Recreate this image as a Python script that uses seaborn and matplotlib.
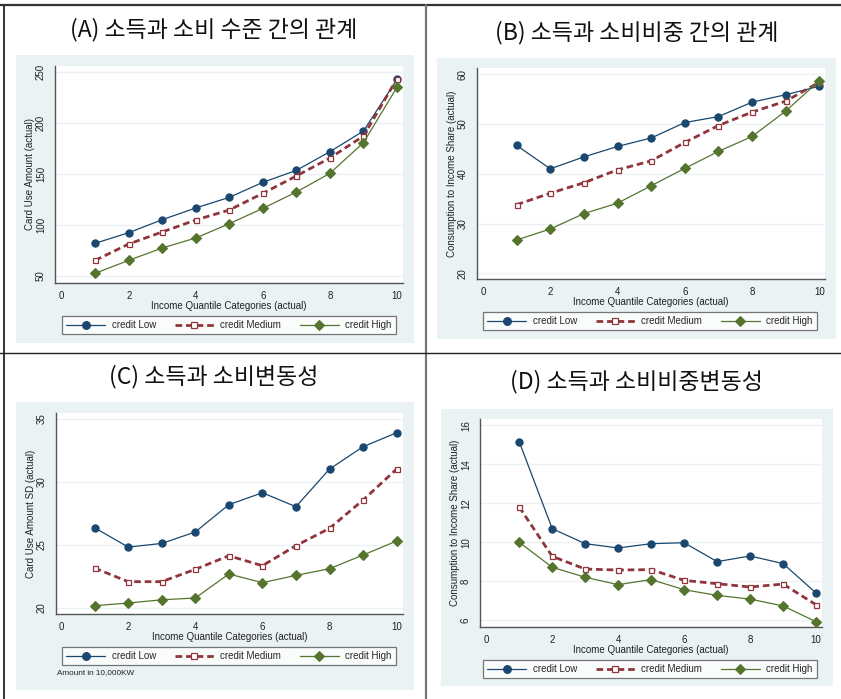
import numpy as np
import pandas as pd
import matplotlib
matplotlib.use("Agg")
import matplotlib.pyplot as plt
from matplotlib.patches import Rectangle
from matplotlib.lines import Line2D
import seaborn as sns

sns.set_theme(style="white")
plt.rcParams["font.family"] = ["Liberation Sans", "Noto Sans CJK KR", "DejaVu Sans"]

# ---- data -------------------------------------------------------------
quantile = [1, 2, 3, 4, 5, 6, 7, 8, 9, 10]
groups = ["credit Low", "credit Medium", "credit High"]

# (A) card use amount
amount_low = [82.0, 92.4, 105.1, 116.6, 127.0, 141.7, 153.4, 171.7, 191.9, 242.5]
amount_med = [65.3, 81.3, 93.1, 104.8, 114.6, 130.9, 147.9, 165.5, 187.0, 243.0]
amount_high = [52.6, 65.3, 77.4, 87.2, 101.2, 116.2, 132.2, 150.5, 180.5, 234.7]

# (B) consumption to income share
share_low = [45.7, 41.0, 43.4, 45.5, 47.2, 50.3, 51.5, 54.4, 55.9, 57.6]
share_med = [33.8, 36.1, 38.2, 40.8, 42.6, 46.3, 49.7, 52.4, 54.6, 58.4]
share_high = [26.7, 28.9, 32.0, 34.1, 37.6, 41.1, 44.5, 47.5, 52.6, 58.7]

# (C) card use amount SD
sd_low = [26.36, 24.82, 25.11, 26.02, 28.19, 29.14, 28.03, 31.02, 32.80, 33.91]
sd_med = [23.15, 22.07, 22.07, 23.05, 24.13, 23.34, 24.93, 26.31, 28.56, 31.02]
sd_high = [20.16, 20.37, 20.63, 20.77, 22.68, 21.99, 22.57, 23.10, 24.19, 25.30]

# (D) consumption to income share SD
ssd_low = [15.15, 10.70, 9.93, 9.71, 9.93, 9.98, 9.01, 9.30, 8.91, 7.40]
ssd_med = [11.81, 9.28, 8.63, 8.58, 8.60, 8.05, 7.88, 7.71, 7.86, 6.80]
ssd_high = [10.00, 8.72, 8.21, 7.83, 8.09, 7.57, 7.28, 7.09, 6.74, 5.93]

titles = ["(A) 소득과 소비 수준 간의 관계", "(B) 소득과 소비비중 간의 관계",
          "(C) 소득과 소비변동성", "(D) 소득과 소비비중변동성"]
ylabels = ["Card Use Amount (actual)", "Consumption to Income Share (actual)",
           "Card Use Amount SD (actual)", "Consumption to Income Share (actual)"]
xlabel = "Income Quantile Categories (actual)"
xticks = [0, 2, 4, 6, 8, 10]
yticks = [[50, 100, 150, 200, 250], [20, 30, 40, 50, 60],
          [20, 25, 30, 35], [6, 8, 10, 12, 14, 16]]
note = "Amount in 10,000KW"

series = [
    (amount_low, amount_med, amount_high),
    (share_low, share_med, share_high),
    (sd_low, sd_med, sd_high),
    (ssd_low, ssd_med, ssd_high),
]

# ---- styling ----------------------------------------------------------
W, H = 841, 699
NAVY, MAROON, GREEN = "#1a476f", "#90353b", "#55752f"
BG = "#eaf2f3"

styles = {
    "credit Low": dict(color=NAVY, lw=0.9, marker="o", ms=5.2, mfc=NAVY, mec=NAVY),
    "credit Medium": dict(color=MAROON, lw=2.0, marker="s", ms=3.6, mfc="white",
                          mec=MAROON, mew=0.9, dashes=(2.4, 1.4)),
    "credit High": dict(color=GREEN, lw=0.9, marker="D", ms=4.8, mfc=GREEN, mec=GREEN),
}

# panel geometry in pixels: background box, plot area, legend centre, title centre
panels = [
    dict(bg=(16, 55, 414, 343), plot=(55, 66, 403, 283), leg=(229, 325), title=(214, 30),
         xlim=(-0.2, 10.18), ylim=(43.1, 255.6)),
    dict(bg=(437, 58, 836, 339), plot=(477, 68, 825, 279), leg=(650, 321), title=(637, 33),
         xlim=(-0.18, 10.17), ylim=(18.85, 61.27)),
    dict(bg=(16, 402, 414, 690), plot=(56, 413, 403, 614), leg=(229, 656), title=(214, 377),
         xlim=(-0.15, 10.19), ylim=(19.5, 35.48)),
    dict(bg=(441, 409, 833, 686), plot=(480, 419, 822, 627), leg=(650, 669), title=(636, 382),
         xlim=(-0.19, 10.18), ylim=(5.66, 16.32)),
]

fig = plt.figure(figsize=(W / 100, H / 100), dpi=100)
fig.patch.set_facecolor("white")


def fx(px):
    return px / W


def fy(py):
    return 1 - py / H


for i, p in enumerate(panels):
    x0, y0, x1, y1 = p["bg"]
    fig.patches.append(Rectangle((fx(x0), fy(y1)), fx(x1 - x0), (y1 - y0) / H,
                                 transform=fig.transFigure, facecolor=BG,
                                 edgecolor="none", zorder=-5))
    a0, b0, a1, b1 = p["plot"]
    ax = fig.add_axes([fx(a0), fy(b1), fx(a1 - a0), (b1 - b0) / H])
    ax.set_zorder(2)
    ax.set_facecolor("white")

    df = pd.DataFrame({"q": quantile * 3,
                       "v": list(series[i][0]) + list(series[i][1]) + list(series[i][2]),
                       "g": [g for g in groups for _ in quantile]})
    for g in groups:
        st = dict(styles[g])
        dashes = st.pop("dashes", None)
        sub = df[df["g"] == g]
        sns.lineplot(data=sub, x="q", y="v", ax=ax, color=st["color"], linewidth=st["lw"],
                     marker=st["marker"], markersize=st["ms"], markerfacecolor=st["mfc"],
                     markeredgecolor=st["mec"], markeredgewidth=st.get("mew", 0.8),
                     label=g, zorder=3)
        if dashes is not None:
            ax.lines[-1].set_dashes(dashes)

    ax.set_xlim(*p["xlim"])
    ax.set_ylim(*p["ylim"])
    ax.set_xticks(xticks)
    ax.set_yticks(yticks[i])
    ax.grid(axis="y", color=BG, lw=1.0)
    ax.set_axisbelow(True)
    for s in ["top", "right"]:
        ax.spines[s].set_visible(False)
    for s in ["left", "bottom"]:
        ax.spines[s].set_color("#555555")
        ax.spines[s].set_linewidth(1.0)
    ax.tick_params(axis="both", direction="out", length=3.5, width=0.8, color="#555555",
                   labelsize=7, labelcolor="#222222", pad=2)
    ax.tick_params(axis="y", pad=3)
    for lab in ax.get_yticklabels():
        lab.set_rotation(90)
        lab.set_va("center")
    ax.set_xlabel(xlabel, fontsize=7, color="#222222", labelpad=0)
    ax.set_ylabel(ylabels[i], fontsize=7, color="#222222", labelpad=1)

    handles = [Line2D([0], [0], color=styles[g]["color"], lw=styles[g]["lw"],
                      marker=styles[g]["marker"], ms=styles[g]["ms"] + 0.4,
                      mfc=styles[g]["mfc"], mec=styles[g]["mec"],
                      mew=styles[g].get("mew", 0.8)) for g in groups]
    handles[1].set_dashes(styles["credit Medium"]["dashes"])
    lx, ly = p["leg"]
    leg = ax.legend(handles, groups, ncol=3, loc="center",
                    bbox_to_anchor=(fx(lx), fy(ly)), bbox_transform=fig.transFigure,
                    fontsize=7, handlelength=4.0, handletextpad=0.7, columnspacing=1.9,
                    borderpad=0.45, frameon=True, fancybox=False)
    leg.get_frame().set_edgecolor("#555555")
    leg.get_frame().set_linewidth(0.9)
    leg.get_frame().set_facecolor("white")

    tx, ty = p["title"]
    fig.text(fx(tx), fy(ty), titles[i], ha="center", va="center", fontsize=16.5,
             family=["Noto Sans CJK KR", "Liberation Sans"], color="#111111")

# footnote under panel C
fig.text(fx(57), fy(673), note, ha="left", va="center", fontsize=5.9, color="#222222",
         zorder=3)

# frame lines dividing the four panels
for seg, col, lw in [
    (((fx(0), fx(841)), (fy(5), fy(5))), "#333333", 1.6),
    (((fx(4), fx(4)), (fy(5), fy(699))), "#333333", 1.4),
    (((fx(426), fx(426)), (fy(5), fy(699))), "#777777", 1.6),
    (((fx(0), fx(841)), (fy(353), fy(353))), "#222222", 1.0),
]:
    fig.add_artist(Line2D(seg[0], seg[1], transform=fig.transFigure, color=col, lw=lw))

fig.savefig("out.png", dpi=100)
